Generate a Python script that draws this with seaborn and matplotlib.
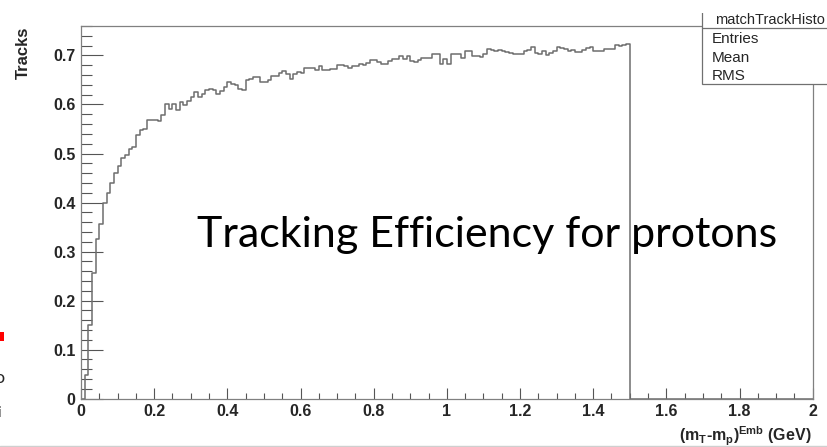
import numpy as np
import pandas as pd
import matplotlib
matplotlib.use("Agg")
import matplotlib.pyplot as plt
from matplotlib.patches import Rectangle
from matplotlib.lines import Line2D
from matplotlib.ticker import MultipleLocator, FuncFormatter
import seaborn as sns

# ---- histogram contents: tracking efficiency per 0.01 GeV bin ----
x_min, x_max, n_bins = 0.0, 2.0, 200
efficiency_filled = [
    0.000, 0.048, 0.150, 0.256, 0.325, 0.357, 0.400, 0.420, 0.440, 0.460,
    0.475, 0.490, 0.496, 0.510, 0.514, 0.537, 0.547, 0.549, 0.568, 0.569,
    0.569, 0.566, 0.578, 0.600, 0.591, 0.600, 0.588, 0.605, 0.598, 0.608,
    0.615, 0.625, 0.615, 0.622, 0.630,
    0.632, 0.630, 0.622, 0.627, 0.635, 0.646, 0.642, 0.639, 0.632, 0.630,
    0.650, 0.652, 0.657, 0.657, 0.646, 0.646, 0.649, 0.659, 0.659, 0.664,
    0.669, 0.662, 0.652, 0.662, 0.666, 0.664, 0.675, 0.675, 0.675, 0.671,
    0.678, 0.671, 0.671, 0.673, 0.673, 0.680, 0.680, 0.678, 0.675,
    0.678, 0.678, 0.683, 0.680, 0.684, 0.691, 0.691, 0.686, 0.683, 0.683,
    0.689, 0.693, 0.693, 0.698, 0.693, 0.698, 0.689, 0.686, 0.690, 0.695,
    0.695, 0.695, 0.702, 0.702, 0.683, 0.693, 0.683, 0.702, 0.702, 0.702,
    0.695, 0.710, 0.710, 0.698, 0.698, 0.697, 0.702,
    0.714, 0.711, 0.710, 0.711, 0.709, 0.707, 0.705, 0.703, 0.702, 0.702,
    0.709, 0.711, 0.717, 0.704, 0.702, 0.709, 0.700, 0.704, 0.709, 0.718,
    0.716, 0.713, 0.709, 0.711, 0.707, 0.707, 0.711, 0.716, 0.717, 0.709,
    0.709, 0.709, 0.713, 0.713, 0.714, 0.722, 0.719, 0.722, 0.724,
]
# bins above 1.5 GeV hold no entries
efficiency = efficiency_filled + [0.0] * (n_bins - len(efficiency_filled))

x_ticks = [0, 0.2, 0.4, 0.6, 0.8, 1, 1.2, 1.4, 1.6, 1.8, 2]
y_ticks = [0, 0.1, 0.2, 0.3, 0.4, 0.5, 0.6, 0.7]
stat_rows = ["Entries", "Mean", "RMS"]

bin_width = (x_max - x_min) / n_bins
centers = x_min + bin_width * (np.arange(n_bins) + 0.5)
df = pd.DataFrame({"center": centers, "eff": efficiency})

# ---- figure ----
W, H, DPI = 827, 447, 100
sns.set_theme(style="white")
plt.rcParams["font.family"] = ["Liberation Sans", "DejaVu Sans"]
plt.rcParams["mathtext.fontset"] = "custom"
plt.rcParams["mathtext.rm"] = "Liberation Sans:bold"
plt.rcParams["mathtext.it"] = "Liberation Sans:bold"
plt.rcParams["mathtext.bf"] = "Liberation Sans:bold"

fig = plt.figure(figsize=(W / DPI, H / DPI), dpi=DPI)
fig.patch.set_facecolor("white")

def fx(px):
    return px / W

def fy(py):
    return 1 - py / H

ax_l, ax_r, ax_t, ax_b = 81, 812.7, 26, 398.7
ax = fig.add_axes([fx(ax_l), fy(ax_b), fx(ax_r - ax_l), (ax_b - ax_t) / H])

line_col = "#6e6e6e"
sns.histplot(data=df, x="center", weights="eff", binwidth=bin_width,
             binrange=(x_min, x_max), element="step", fill=False,
             color=line_col, linewidth=1.1, ax=ax)

ax.set_xlim(x_min, x_max)
ax.set_ylim(0, 0.76)
ax.set_xlabel("")
ax.set_ylabel("")

fmt = FuncFormatter(lambda v, _: "0" if abs(v) < 1e-9 else f"{v:g}")
ax.set_xticks(x_ticks)
ax.set_yticks(y_ticks)
ax.xaxis.set_minor_locator(MultipleLocator(0.05))
ax.yaxis.set_minor_locator(MultipleLocator(0.02))
ax.xaxis.set_major_formatter(fmt)
ax.yaxis.set_major_formatter(fmt)

tick_col = "#555555"
ax.tick_params(axis="both", which="both", direction="in", color=tick_col,
               width=0.8, labelsize=11.5, bottom=True, left=True,
               top=False, right=False)
ax.tick_params(axis="y", which="major", length=16, pad=4)
ax.tick_params(axis="y", which="minor", length=8)
ax.tick_params(axis="x", which="major", length=8, pad=4)
ax.tick_params(axis="x", which="minor", length=4)
for lab in ax.get_xticklabels() + ax.get_yticklabels():
    lab.set_fontweight("bold")
for sp in ax.spines.values():
    sp.set_color("#808080")
    sp.set_linewidth(0.9)

# axis titles
fig.text(fx(23), fy(27), "Tracks", rotation=90, ha="center", va="top",
         fontsize=12, fontweight="bold")
fig.text(fx(812), fy(441), r"(m$_{\mathrm{T}}$-m$_{\mathrm{p}}$)$^{\mathrm{Emb}}$ (GeV)",
         ha="right", va="baseline", fontsize=11.5, fontweight="bold")

# statistics box (its top and right side run past the visible area)
box_l, box_t, box_b, hdr = 701.7, 13, 84, 28
fig.patches.append(Rectangle((fx(box_l), fy(box_b)), fx(W + 20 - box_l), (box_b + 20) / H,
                             transform=fig.transFigure, facecolor="white",
                             edgecolor="#707070", linewidth=0.9, zorder=5))
fig.lines.append(Line2D([fx(box_l), 1.0], [fy(hdr), fy(hdr)], transform=fig.transFigure,
                        color="#707070", linewidth=0.9, zorder=6))
fig.text(fx(715), fy(20.5), "matchTrackHisto", ha="left", va="center",
         fontsize=10.5, zorder=7)
for i, row in enumerate(stat_rows):
    fig.text(fx(711.5), fy(39 + 18.5 * i), row, ha="left", va="center",
             fontsize=11, zorder=7)

# blank strip along the top edge of the slide crop
fig.patches.append(Rectangle((0, fy(box_t)), 1, box_t / H + 0.01, transform=fig.transFigure,
                             facecolor="white", edgecolor="none", zorder=9))

# slide caption over the plot
caption = "Tracking Efficiency for protons"
cap_txt = fig.text(fx(197), fy(247), caption, ha="left", va="baseline",
                   fontsize=32, family=["Lato", "DejaVu Sans"], color="black", zorder=8)
fig.canvas.draw()
bb = cap_txt.get_window_extent()
cap_txt.set_fontsize(32 * (583 / bb.width))

# fragments of neighbouring slide content at the left edge
fig.patches.append(Rectangle((0, fy(341)), fx(4), 9 / H, transform=fig.transFigure,
                             facecolor="#ff0000", edgecolor="none"))
fig.text(fx(-6), fy(378), "o", ha="left", va="center", fontsize=13, family="Lato")
fig.text(fx(-3), fy(413), "i", ha="left", va="center", fontsize=11, family="Lato", color="#333333")

# thin rule along the bottom of the slide
fig.lines.append(Line2D([0, 1], [fy(445.5), fy(445.5)], transform=fig.transFigure,
                        color="#cfcfcf", linewidth=1.0))

fig.savefig("out.png", dpi=DPI, facecolor="white")
